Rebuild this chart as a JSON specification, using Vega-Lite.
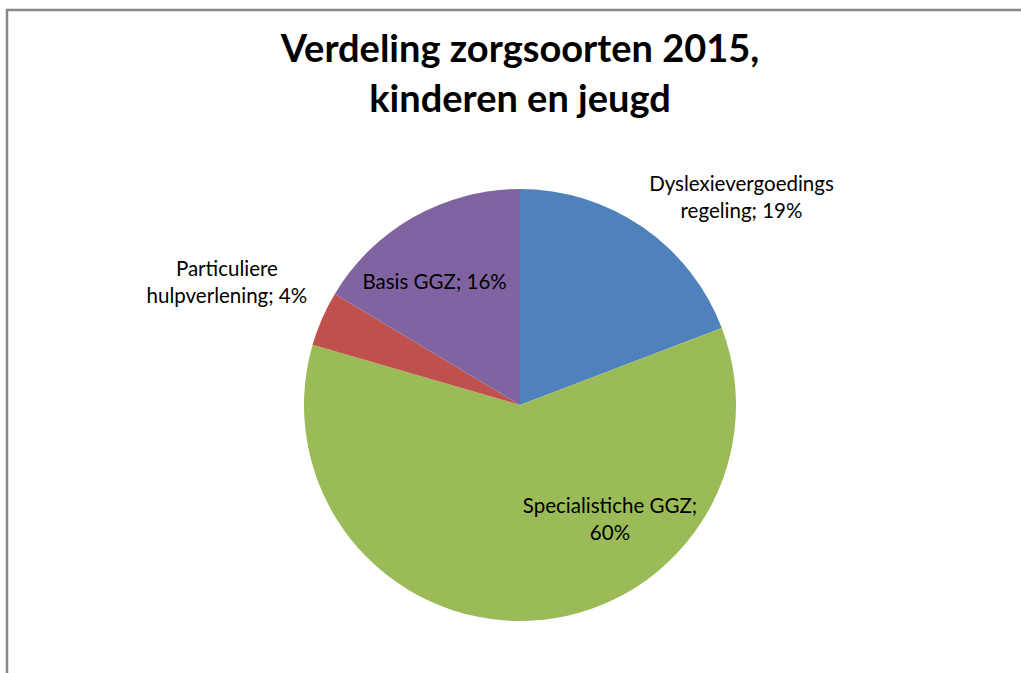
{
  "$schema": "https://vega.github.io/schema/vega-lite/v6.json",
  "autosize": {"type": "none"},
  "width": 1014,
  "height": 663,
  "padding": {"left": 7, "top": 10, "right": 0, "bottom": 0},
  "background": "white",
  "view": {"stroke": "#888888", "strokeWidth": 2.5, "strokeDash": [1014, 1677, 663]},
  "config": {
    "font": "Lato"
  },
  "title": {
    "text": ["Verdeling zorgsoorten 2015,", "kinderen en jeugd"],
    "font": "Lato",
    "fontSize": 38,
    "fontWeight": "bold",
    "color": "#000000",
    "anchor": "middle",
    "frame": "group",
    "baseline": "top",
    "lineHeight": 50,
    "offset": -110,
    "dx": 6
  },
  "data": {
    "values": [
      {"category": "Dyslexievergoedingsregeling", "value": 19.2, "label": "Dyslexievergoedings\nregeling; 19%"},
      {"category": "Specialistiche GGZ", "value": 60.3, "label": "Specialistiche GGZ;\n60%"},
      {"category": "Particuliere hulpverlening", "value": 4.1, "label": "Particuliere\nhulpverlening; 4%"},
      {"category": "Basis GGZ", "value": 16.4, "label": "Basis GGZ; 16%"}
    ]
  },
  "transform": [{"window": [{"op": "row_number", "as": "idx"}]}],
  "encoding": {
    "theta": {"field": "value", "type": "quantitative", "stack": true},
    "order": {"field": "idx", "type": "quantitative", "sort": "ascending"}
  },
  "layer": [
    {
      "mark": {"type": "arc", "outerRadius": 216, "xOffset": 6, "yOffset": 63.5},
      "encoding": {
        "color": {
          "field": "category",
          "type": "nominal",
          "scale": {
            "domain": ["Dyslexievergoedingsregeling", "Specialistiche GGZ", "Particuliere hulpverlening", "Basis GGZ"],
            "range": ["#4F81BD", "#9BBB59", "#C0504D", "#8064A2"]
          },
          "legend": null
        }
      }
    },
    {
      "mark": {"type": "text", "radius": 260, "xOffset": 6, "yOffset": 63.5, "dx": 74, "dy": -6, "fontSize": 20.5, "font": "Lato", "lineBreak": "\n", "lineHeight": 27, "align": "center", "baseline": "middle", "color": "#000000"},
      "encoding": {
        "text": {"condition": {"test": "datum.category === 'Dyslexievergoedingsregeling'", "field": "label"}, "value": ""}
      }
    },
    {
      "mark": {"type": "text", "radius": 146, "xOffset": 6, "yOffset": 63.5, "dx": 84, "dy": -44, "fontSize": 20.5, "font": "Lato", "lineBreak": "\n", "lineHeight": 27, "align": "center", "baseline": "middle", "color": "#000000"},
      "encoding": {
        "text": {"condition": {"test": "datum.category === 'Specialistiche GGZ'", "field": "label"}, "value": ""}
      }
    },
    {
      "mark": {"type": "text", "radius": 310, "xOffset": 6, "yOffset": 63.5, "dx": -9, "dy": -11, "fontSize": 20.5, "font": "Lato", "lineBreak": "\n", "lineHeight": 27, "align": "center", "baseline": "middle", "color": "#000000"},
      "encoding": {
        "text": {"condition": {"test": "datum.category === 'Particuliere hulpverlening'", "field": "label"}, "value": ""}
      }
    },
    {
      "mark": {"type": "text", "radius": 145, "xOffset": 6, "yOffset": 63.5, "dx": -14, "dy": 4, "fontSize": 20.5, "font": "Lato", "lineBreak": "\n", "lineHeight": 27, "align": "center", "baseline": "middle", "color": "#000000"},
      "encoding": {
        "text": {"condition": {"test": "datum.category === 'Basis GGZ'", "field": "label"}, "value": ""}
      }
    }
  ]
}
